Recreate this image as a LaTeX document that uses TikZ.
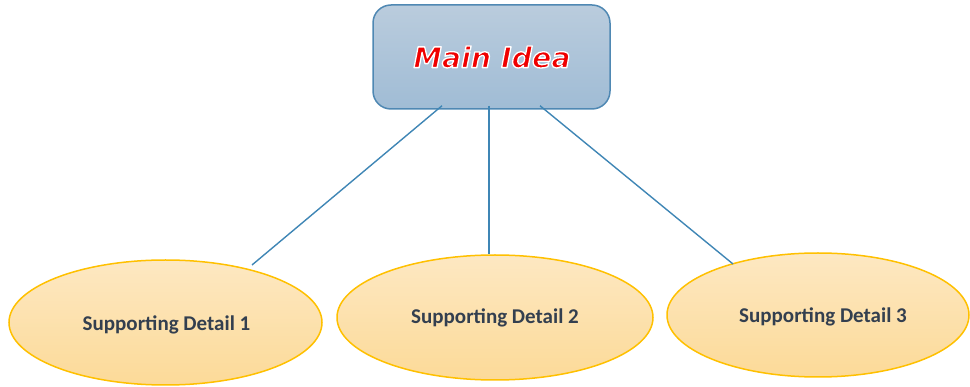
\documentclass[tikz,border=0pt]{standalone}
\usepackage{fontspec}
\usetikzlibrary{shapes.geometric,calc}
\newfontfamily\ideafont{DejaVu Sans}
\newfontfamily\detailfont{Carlito}
\definecolor{boxtop}{HTML}{BACCDD}
\definecolor{boxbot}{HTML}{A0BCD5}
\definecolor{boxline}{HTML}{4F88B3}
\definecolor{linkcol}{HTML}{3F86B5}
\definecolor{elltop}{HTML}{FDE8C2}
\definecolor{ellbot}{HTML}{FCDA98}
\definecolor{ellline}{HTML}{FFC000}
\definecolor{txtcol}{HTML}{333F4F}
\definecolor{ideared}{HTML}{F00000}
\newcommand\fancyidea[1]{{\color{ideared}\special{pdf:literal direct 2 Tr 1.3 w 1 j 1 1 1 RG}#1\special{pdf:literal direct 0 Tr}}}
\tikzset{
  mainbox/.style={draw=boxline, line width=1.5pt, rounded corners=18pt,
    top color=boxtop, bottom color=boxbot, minimum width=237pt,
    minimum height=104pt, inner sep=0pt},
  detail/.style={ellipse, draw=ellline, line width=1.5pt,
    top color=elltop, bottom color=ellbot, inner sep=0pt},
  detailtext/.style={text=txtcol, font=\detailfont\bfseries\fontsize{21}{24}\selectfont},
  link/.style={draw=linkcol, line width=1.4pt},
}
\begin{document}
\begin{tikzpicture}[x=1pt,y=-1pt]
\useasboundingbox (0,0) rectangle (970,387);
% ellipses
\node[detail, minimum width=313pt, minimum height=125pt] (sd1) at (165.5,322.5) {};
\node[detail, minimum width=316pt, minimum height=125pt] (sd2) at (495,317.5) {};
\node[detail, minimum width=302pt, minimum height=124pt] (sd3) at (818,315) {};
\node[detailtext] (t1) at (166.5,325) {Supporting Detail 1};
\node[detailtext] (t2) at (495,318) {Supporting Detail 2};
\node[detailtext] (t3) at (823,317) {Supporting Detail 3};
% main box
\node[mainbox] (main) at (491.5,57) {};
\node[font=\ideafont\bfseries\itshape\fontsize{28.5}{34}\selectfont, inner sep=0pt] (idea) at (492,57) {\fancyidea{Main Idea}};
% links
\coordinate (s1) at ($(main.south)+(-49.5,-4)$);
\coordinate (s2) at ($(main.south)+(-2.5,-4)$);
\coordinate (s3) at ($(main.south)+(48.5,-4)$);
\coordinate (e1) at ($(sd1.center)+(86.5,-57.5)$);
\coordinate (e3) at ($(sd3.center)+(-85,-51)$);
\draw[link] (s1) -- (e1);
\draw[link] (s2) -- (s2 |- sd2.north);
\draw[link] (s3) -- (e3);
\end{tikzpicture}
\end{document}
